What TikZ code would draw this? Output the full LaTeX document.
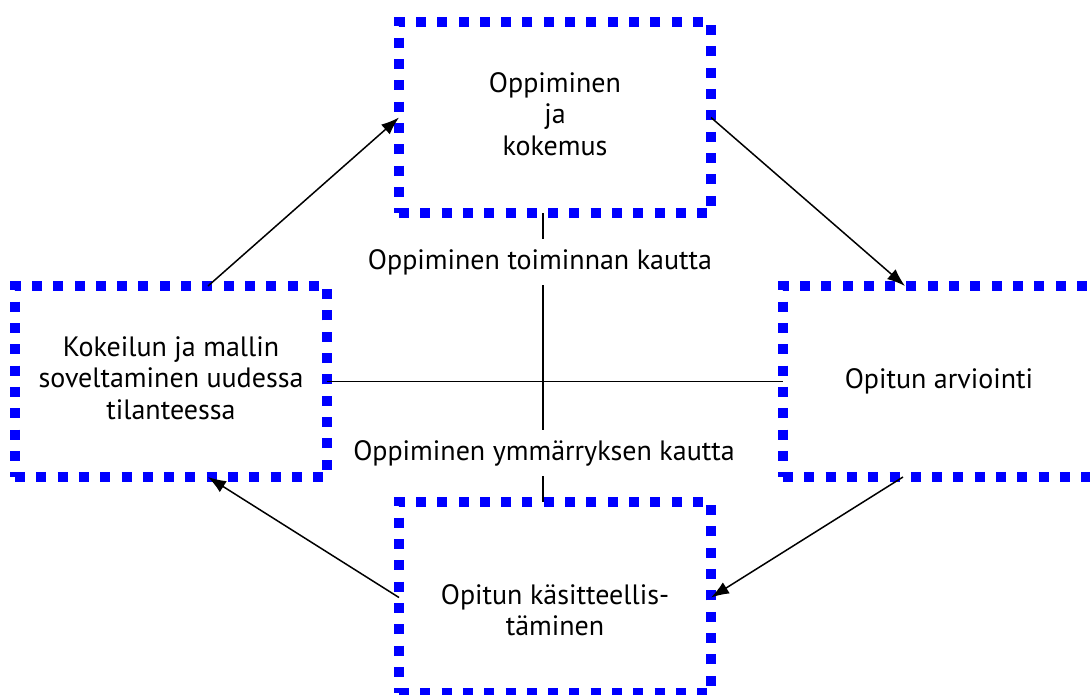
\documentclass[tikz,border=0pt]{standalone}
\usepackage{fontspec}
\setmainfont{PT Sans}
\usetikzlibrary{arrows.meta}
\definecolor{boxblue}{RGB}{0,0,255}
\begin{document}
\begin{tikzpicture}[x=1pt,y=-1pt,
  stagebox/.style={draw=boxblue, line width=10pt, dash pattern=on 10pt off 11.3pt,
    minimum width=312pt, minimum height=191pt, outer sep=0pt},
  stagetext/.style={align=center, font=\fontsize{28}{31.5}\selectfont},
  axislabel/.style={fill=white, inner sep=10pt, font=\fontsize{28}{31.5}\selectfont},
  flow/.style={line width=1.5pt, -{Latex[length=18pt,width=13pt]}},
  axis/.style={line width=1.5pt}]
\useasboundingbox (0,0) rectangle (1090,694);
% the four stages of the cycle
\node[stagebox] (T) at (555,117.5) {};
\node[stagebox] (L) at (171,381.5) {};
\node[stagebox] (R) at (939,381.5) {};
\node[stagebox] (B) at (555,597.5) {};
\node[stagetext] (Tt) at (555,114) {Oppiminen\\ja\\kokemus};
\node[stagetext] (Lt) at (171,378) {Kokeilun ja mallin\\soveltaminen uudessa\\tilanteessa};
\node[stagetext] (Rt) at (939,381) {Opitun arviointi};
\node[stagetext] (Bt) at (555,610) {Opitun käsitteellis-\\täminen};
% the two crossing axes
\coordinate (vx) at (543,0);
\draw[axis] (T.south -| vx) -- (B.north -| vx);
\draw[axis] (L.east) -- (R.west);
\node[axislabel] (act) at (540,262) {Oppiminen toiminnan kautta};
\node[axislabel] (und) at (544,453) {Oppiminen ymmärryksen kautta};
% arrows round the cycle
\draw[flow] ([xshift=37pt]L.north) -- (T.west);
\draw[flow] (T.east) -- ([xshift=-34pt]R.north);
\draw[flow] ([xshift=-36pt]R.south) -- (B.east);
\draw[flow] (B.west) -- ([xshift=37pt]L.south);
\end{tikzpicture}
\end{document}
